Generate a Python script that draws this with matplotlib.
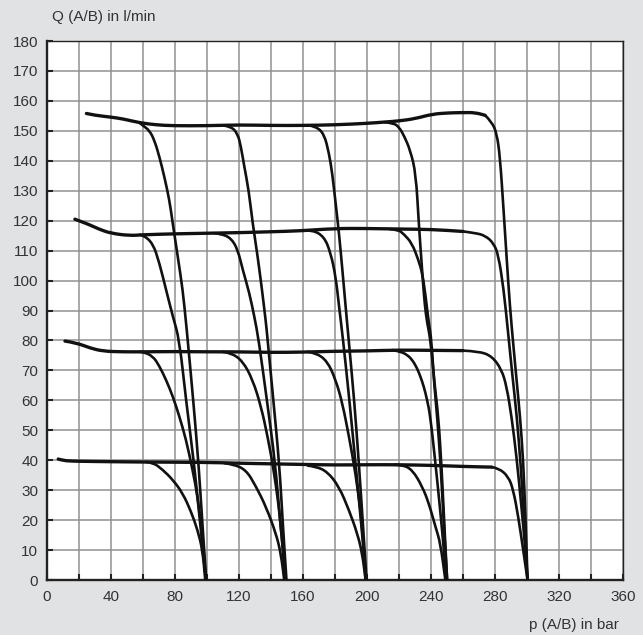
import matplotlib.pyplot as plt
from matplotlib.ticker import MultipleLocator
from matplotlib.path import Path
from matplotlib.patches import PathPatch

plt.rcParams["font.family"] = ["Liberation Sans", "DejaVu Sans"]

# ── flat part of each flow level (up to where the 300 bar curve takes over) ──
p_l156 = [24.8, 30, 40, 47.6, 58, 68.3, 78.7, 99.4, 120, 140, 160, 180, 200, 210,
          220, 230.3, 240.7, 251, 260, 267.5, 273.7]
q_l156 = [155.8, 155.2, 154.6, 154.0, 152.7, 152.0, 151.7, 151.7, 152.0, 151.8, 151.8,
          152.0, 152.5, 152.9, 153.3, 154.1, 155.6, 156.0, 156.1, 156.1, 155.2]

p_l120 = [17.6, 22, 26.9, 33, 40, 51.8, 60, 78.7, 99.4, 120, 140, 158.4, 180, 200,
          220, 240, 260]
q_l120 = [120.5, 119.6, 118.6, 117.1, 115.8, 115.0, 115.3, 115.6, 115.8, 116.0, 116.3,
          116.6, 117.4, 117.4, 117.2, 117.1, 116.4]

p_l80 = [11.4, 18.6, 26.9, 35.2, 47.6, 60, 80, 100, 120, 140, 160, 180, 200, 220,
         240, 260]
q_l80 = [79.8, 79.2, 77.5, 76.4, 76.2, 76.2, 76.3, 76.2, 76.2, 76.0, 76.1, 76.4, 76.5,
         76.8, 76.7, 76.6]

p_l40 = [7.2, 10.4, 16, 26.9, 58, 99.4, 120, 140, 160, 180, 200, 220, 240, 261.3,
         277.9]
q_l40 = [40.4, 39.9, 39.7, 39.6, 39.4, 39.3, 39.0, 38.8, 38.6, 38.4, 38.5, 38.5, 38.3,
         37.9, 37.7]

# ── drop curves, named <level>_<relief pressure> ─────────────────────────────
p_156_100 = [58, 60, 64.2, 67.3, 70.4, 73.5, 76.6, 78.7, 81.8, 84.9, 87, 88, 91.5, 94.8, 97.3, 99.6]
q_156_100 = [152.7, 151.8, 150.1, 146.8, 141.3, 134.6, 126.9, 119.1, 108.1, 97, 85.9, 80.4, 60, 39, 18, 0]
p_120_100 = [58, 60, 66.3, 70.4, 74.5, 78.7, 82.8, 87, 92, 96, 99.4]
q_120_100 = [115.3, 115.3, 112.5, 105.8, 97, 88.1, 80.4, 60, 39, 18, 0]
p_80_100 = [58, 60, 66.3, 70.4, 74.5, 78.7, 82.8, 87, 91.1, 94.2, 97.3, 99.4]
q_80_100 = [76.2, 76.2, 74.8, 71.4, 66.9, 61.4, 54.7, 46.9, 36.8, 27.9, 14.5, 0]
p_40_100 = [62, 66.3, 72.5, 78.7, 84.9, 90.1, 94.2, 97.3, 99.0]
q_40_100 = [39.4, 39.3, 36.8, 33.5, 29, 22.9, 16.7, 10, 0]

p_156_150 = [110, 115.1, 119.3, 121.3, 123.4, 126.1, 128.6, 131.7, 134.4, 136.9, 137.9, 141.5, 145.2, 147.5, 149.7]
q_156_150 = [151.8, 151.5, 149, 144.6, 138, 130.2, 119.1, 108.1, 97, 85.9, 80.4, 60, 39, 18, 0]
p_120_150 = [105, 108.9, 115.1, 119.3, 122.4, 126.5, 129.6, 132.3, 137.5, 142.7, 146, 149.3]
q_120_150 = [115.8, 115.6, 114.2, 110.3, 103.6, 95.9, 88.1, 80.4, 60, 39, 18, 0]
p_80_150 = [110, 115.1, 122.4, 128.6, 133.8, 137.9, 142.1, 146.2, 148.9]
q_80_150 = [76.2, 75.9, 73.1, 66.9, 58, 48, 35.7, 19, 0]
p_40_150 = [111, 116.2, 124.5, 130.7, 136.9, 143.1, 146.2, 148.3]
q_40_150 = [39.0, 38.7, 36.8, 31.2, 24.5, 15.6, 8.9, 0]

p_156_200 = [163, 168, 173.2, 176.3, 178.3, 180.4, 182.5, 184.6, 186.6, 188.5, 192, 194.9, 197.5, 199.7]
q_156_200 = [151.9, 151.5, 149, 142.4, 135.7, 125.8, 115.8, 103.6, 91.5, 80.4, 60, 39, 18, 0]
p_120_200 = [161, 165.9, 173.2, 177.3, 180.4, 182.5, 185, 189, 192.8, 196.5, 199.5]
q_120_200 = [116.7, 116.9, 114.7, 109.2, 101.4, 91.5, 80.4, 60, 39, 18, 0]
p_80_200 = [163, 168, 175.2, 180.4, 184.6, 188.7, 192.8, 197, 199.1]
q_80_200 = [76.2, 75.9, 73.1, 66.9, 59.1, 48, 35.7, 19, 0]
p_40_200 = [163, 168, 175.2, 182.5, 188.7, 193.9, 197, 199.1]
q_40_200 = [38.2, 37.9, 36.2, 31.2, 23.4, 15.6, 8.9, 0]

p_156_250 = [211, 216.7, 220, 223, 227, 230.5, 232.3, 234.5, 236, 237.5, 239.6, 242.2, 244.5, 246.5, 248.3, 250]
q_156_250 = [152.9, 152.6, 151.2, 148.5, 143.5, 135.7, 119.1, 102.5, 92, 85.9, 80.4, 65, 54.7, 38, 18, 0]
p_120_250 = [214, 219.5, 223, 228, 232, 234.5, 236.5, 238.5, 240.2, 242, 243.8, 246, 248, 250]
q_120_250 = [117.2, 117, 115.5, 112.5, 107, 102.5, 95, 86, 80.3, 64.7, 54.7, 38, 18, 0]
p_80_250 = [216, 220.9, 225, 228.1, 231, 233.3, 235.5, 237.5, 239.5, 242.5, 245, 247.5, 249.5]
q_80_250 = [76.8, 76.3, 75.2, 73.6, 71, 68, 64.5, 60.2, 54.7, 40, 27, 13, 0]
p_40_250 = [217, 222.1, 228.3, 234.5, 238.6, 242.7, 245.8, 248.9]
q_40_250 = [38.5, 38.5, 36.8, 31.2, 25.6, 17.8, 12.3, 0]

p_156_300 = [273.7, 277.9, 281, 283, 285.1, 287.1, 289.2, 291.4, 293.5, 295.5, 297.5, 299, 300.2]
q_156_300 = [155.2, 153.0, 149.1, 141.3, 124.7, 108, 91.3, 78, 66, 54.7, 40, 20, 0]
p_120_300 = [260, 267.6, 273.8, 279, 282, 285.2, 288, 290.8, 293.5, 296, 298.3, 300.2]
q_120_300 = [116.4, 115.9, 115.0, 112.5, 108.5, 97.5, 83, 68, 54.7, 38, 18, 0]
p_80_300 = [260, 269.6, 277.9, 284, 287.1, 290.2, 293.3, 296.4, 298.5, 300.2]
q_80_300 = [76.6, 76.4, 74.8, 70.3, 64.7, 54.7, 41.3, 24.5, 12.3, 0]
p_40_300 = [277.9, 282, 288.2, 291.3, 294.4, 297.5, 300.2]
q_40_300 = [37.7, 37.4, 34.6, 30.1, 21.2, 10, 0]

levels = [(p_l156, q_l156), (p_l120, q_l120), (p_l80, q_l80), (p_l40, q_l40)]
drops = [
    (p_156_100, q_156_100), (p_120_100, q_120_100), (p_80_100, q_80_100), (p_40_100, q_40_100),
    (p_156_150, q_156_150), (p_120_150, q_120_150), (p_80_150, q_80_150), (p_40_150, q_40_150),
    (p_156_200, q_156_200), (p_120_200, q_120_200), (p_80_200, q_80_200), (p_40_200, q_40_200),
    (p_156_250, q_156_250), (p_120_250, q_120_250), (p_80_250, q_80_250), (p_40_250, q_40_250),
    (p_156_300, q_156_300), (p_120_300, q_120_300), (p_80_300, q_80_300), (p_40_300, q_40_300),
]

BG = "#e1e2e4"
GRID = "#8e9193"
INK = "#111111"


def smooth_line(ax, p, q, lw):
    # quadratic bezier through the midpoints, read points act as control points
    pts = list(zip(p, q))
    verts = [pts[0]]
    codes = [Path.MOVETO]
    for i in range(1, len(pts) - 1):
        mid = ((pts[i][0] + pts[i + 1][0]) / 2, (pts[i][1] + pts[i + 1][1]) / 2)
        verts += [pts[i], mid]
        codes += [Path.CURVE3, Path.CURVE3]
    verts.append(pts[-1])
    codes.append(Path.LINETO)
    ax.add_patch(PathPatch(Path(verts, codes), fill=False, edgecolor=INK, lw=lw,
                           capstyle="round", joinstyle="round", zorder=3))


fig = plt.figure(figsize=(6.43, 6.35), dpi=100, facecolor=BG)
ax = fig.add_axes([0.0726, 0.0866, 0.8968, 0.8488])
ax.set_facecolor("white")

for p, q in levels:
    smooth_line(ax, p, q, 2.4)
for p, q in drops:
    smooth_line(ax, p, q, 1.9)

ax.set_xlim(0, 360)
ax.set_ylim(0, 180)
ax.xaxis.set_major_locator(MultipleLocator(40))
ax.xaxis.set_minor_locator(MultipleLocator(20))
ax.yaxis.set_major_locator(MultipleLocator(10))
ax.grid(which="both", color=GRID, lw=1.1)
ax.set_axisbelow(True)

ax.tick_params(which="both", direction="in", length=4, width=1.5, color="#222222",
               labelcolor="#333333", labelsize=11)
ax.tick_params(axis="x", pad=7)
ax.tick_params(axis="y", pad=6)

for s in ["left", "bottom"]:
    ax.spines[s].set_linewidth(1.7)
    ax.spines[s].set_color("#222222")
for s in ["top", "right"]:
    ax.spines[s].set_linewidth(1.0)
    ax.spines[s].set_color("#222222")

fig.text(52 / 643, 1 - 16.5 / 635, "Q (A/B) in l/min", ha="left", va="center",
         fontsize=11, color="#333333")
fig.text(619 / 643, 1 - 625 / 635, "p (A/B) in bar", ha="right", va="center",
         fontsize=11, color="#333333")

fig.savefig("out.png", dpi=100, facecolor=BG)
